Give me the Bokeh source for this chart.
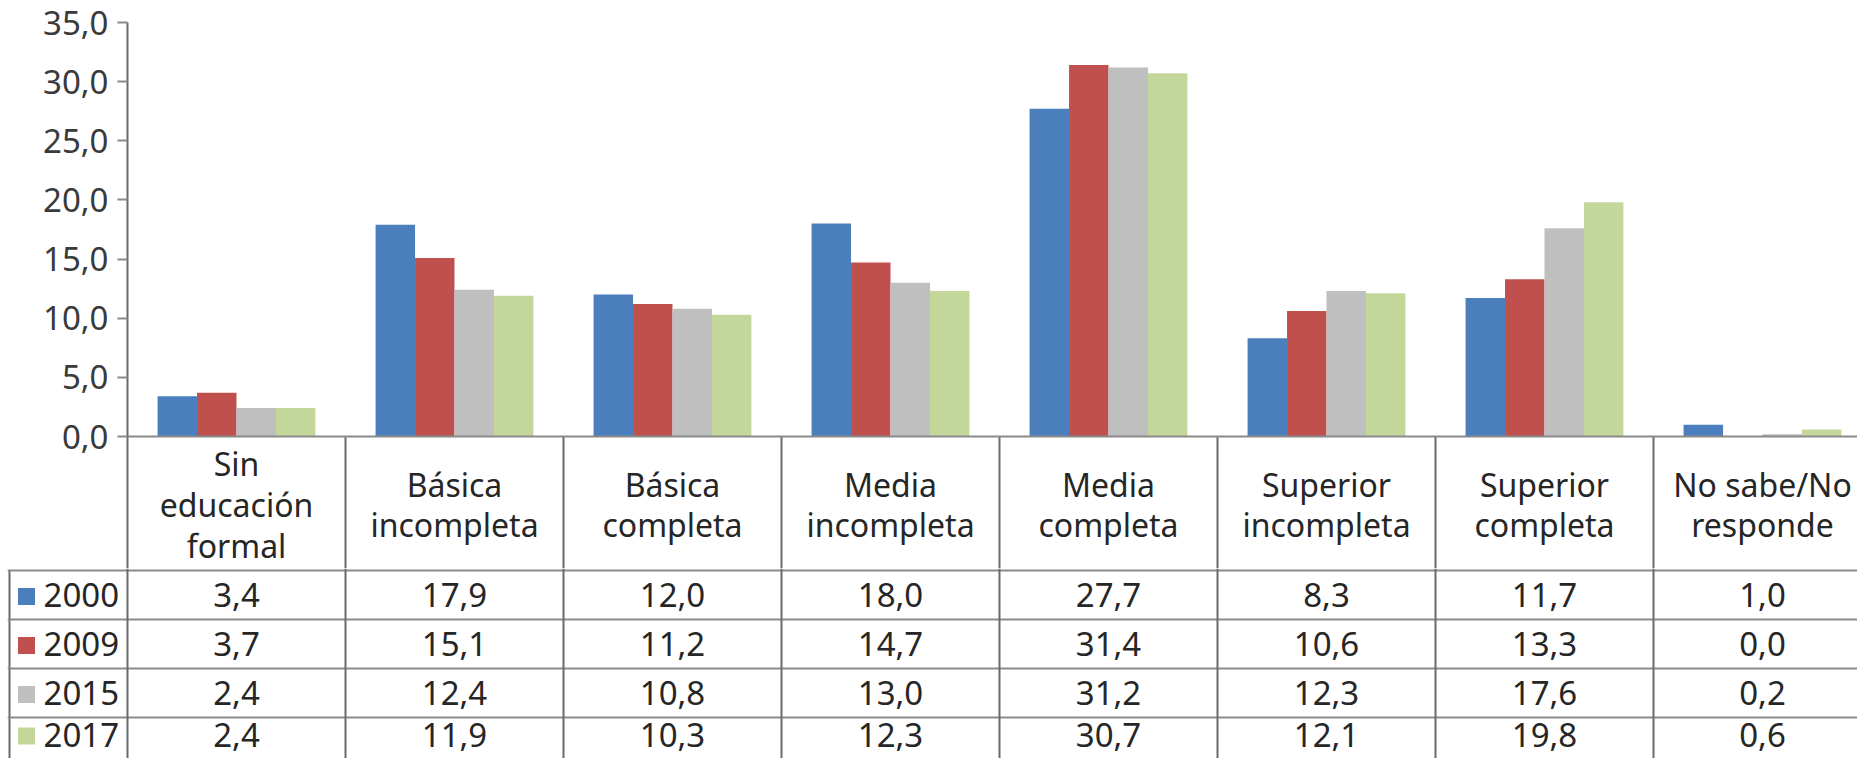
from bokeh.plotting import figure
from bokeh.models import Range1d, FixedTicker, LinearAxis, Span, ColumnDataSource
from bokeh.layouts import column
from bokeh.embed import file_html
from bokeh.resources import INLINE
from bokeh.core.properties import value

# ---------------- data ----------------
categories = ["Sin educación formal", "Básica incompleta", "Básica completa",
              "Media incompleta", "Media completa", "Superior incompleta",
              "Superior completa", "No sabe/No responde"]
header_labels = ["Sin\neducación\nformal", "Básica\nincompleta", "Básica\ncompleta",
                 "Media\nincompleta", "Media\ncompleta", "Superior\nincompleta",
                 "Superior\ncompleta", "No sabe/No\nresponde"]
years = ["2000", "2009", "2015", "2017"]
v2000 = [3.4, 17.9, 12.0, 18.0, 27.7, 8.3, 11.7, 1.0]
v2009 = [3.7, 15.1, 11.2, 14.7, 31.4, 10.6, 13.3, 0.0]
v2015 = [2.4, 12.4, 10.8, 13.0, 31.2, 12.3, 17.6, 0.2]
v2017 = [2.4, 11.9, 10.3, 12.3, 30.7, 12.1, 19.8, 0.6]
series = [v2000, v2009, v2015, v2017]
colors = ["#4A7EBD", "#C0504D", "#BFBFBF", "#C4D79B"]
y_ticks = [0, 5, 10, 15, 20, 25, 30, 35]


def fmt(v):
    return f"{v:.1f}".replace(".", ",")


# ---------------- layout constants ----------------
W = 1857
PX_CAT = 218            # pixels per category column
PX_UNIT = 414 / 35      # pixels per value unit
LEFT = 127
TOP_H = 568
TOP_BORDER = 22
BAR_W = 0.181
FONT = value("Noto Sans")
TXT = "#262626"
GRID_H = "#8a8a8a"
GRID_V = "#6a6a6a"
N = len(categories)

# ---------------- chart + header ----------------
frame_h = TOP_H - TOP_BORDER
y_bottom = 35 - frame_h / PX_UNIT
top = figure(width=W, height=TOP_H, output_backend="svg", toolbar_location=None,
             x_range=Range1d(0, (W - LEFT) / PX_CAT), y_range=Range1d(y_bottom, 35),
             min_border_left=LEFT, min_border_right=0, min_border_top=TOP_BORDER,
             min_border_bottom=0, x_axis_location=None, y_axis_location=None,
             frame_align=False)
top.outline_line_color = None
top.grid.visible = False

for k, (yr, vals, col) in enumerate(zip(years, series, colors)):
    src = ColumnDataSource(dict(
        x=[i + 0.5 + (k - 1.5) * BAR_W for i in range(N)],
        top=vals, cat=categories))
    top.vbar(x="x", top="top", width=BAR_W, source=src,
             fill_color=col, line_color=None)

yaxis = LinearAxis(ticker=FixedTicker(ticks=y_ticks),
                   major_label_overrides={t: fmt(t) for t in y_ticks})
yaxis.axis_line_color = GRID_V
yaxis.axis_line_width = 2
yaxis.major_tick_line_color = GRID_H
yaxis.major_tick_line_width = 2
yaxis.major_tick_out = 10
yaxis.major_tick_in = 0
yaxis.minor_tick_line_color = None
yaxis.major_label_standoff = 9
yaxis.major_label_text_font = "Noto Sans"
yaxis.major_label_text_font_size = "33px"
yaxis.major_label_text_color = "#3a3a3a"
top.add_layout(yaxis, "left")

# baseline and column separators of the header
top.add_layout(Span(location=0, dimension="width", line_color=GRID_H, line_width=2))
top.segment(x0=list(range(1, N)), y0=[0] * (N - 1), x1=list(range(1, N)),
            y1=[y_bottom] * (N - 1), line_color=GRID_V, line_width=2)

head_src = ColumnDataSource(dict(x=[i + 0.5 for i in range(N)],
                                 y=[(444 - 512) / PX_UNIT] * N,
                                 t=header_labels))
top.text(x="x", y="y", text="t", source=head_src, text_font=FONT,
         text_font_size="32px", text_color=TXT, text_align="center",
         text_baseline="middle", text_line_height=0.95)

# ---------------- data rows ----------------
BOT_H = 766 - 576
BOT_LEFT = 7            # frame starts at page x 15
ROW_PX = 49.0
OFF = 2                 # header bottom line sits 2px below the figure top
x0 = (BOT_LEFT + 8 - 135) / PX_CAT
x1 = x0 + (W - BOT_LEFT) / PX_CAT
yb = -(BOT_H - OFF) / ROW_PX
bot = figure(width=W, height=BOT_H, output_backend="svg", toolbar_location=None,
             x_range=Range1d(x0, x1), y_range=Range1d(yb, OFF / ROW_PX),
             min_border_left=BOT_LEFT, min_border_right=0, min_border_top=0,
             min_border_bottom=0, x_axis_location=None, y_axis_location=None,
             frame_align=False)
bot.outline_line_color = None
bot.grid.visible = False

for r in range(len(years)):
    bot.add_layout(Span(location=-r, dimension="width", line_color=GRID_H, line_width=2))
for i in range(N):
    bot.add_layout(Span(location=i, dimension="height", line_color=GRID_V, line_width=2))
left_border = (17 - 135) / PX_CAT
bot.segment(x0=[left_border], y0=[0], x1=[left_border], y1=[yb],
            line_color=GRID_V, line_width=2)

text_floor = yb + 24 / ROW_PX   # keep the last row's text inside the picture
for r, (yr, vals, col) in enumerate(zip(years, series, colors)):
    yc = max(-(r + 0.5), text_floor)
    src = ColumnDataSource(dict(x=[i + 0.5 for i in range(N)],
                                y=[yc] * N,
                                t=[fmt(v) for v in vals]))
    bot.text(x="x", y="y", text="t", source=src, text_font=FONT,
             text_font_size="33px", text_color=TXT, text_align="center",
             text_baseline="middle")
    bot.scatter(x=[(34 - 135) / PX_CAT], y=[yc - 0.03], marker="square",
                size=17, fill_color=col, line_color=None)
    bot.text(x=[(51 - 135) / PX_CAT], y=[yc], text=[yr], text_font=FONT,
             text_font_size="33px", text_color=TXT, text_align="left",
             text_baseline="middle")

layout = column(top, bot, spacing=0)
open("out.html", "w").write(file_html(layout, INLINE))
